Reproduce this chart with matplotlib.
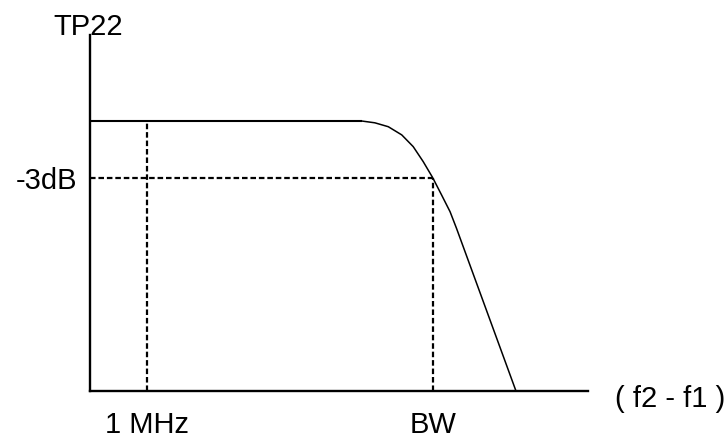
import matplotlib.pyplot as plt

plt.rcParams['font.family'] = ['Liberation Sans', 'DejaVu Sans']

# Response curve (arbitrary units, axis runs 0..100 both ways)
freq = [0, 54.6, 57.2, 59.9, 62.6, 64.9, 66.9, 68.8, 70.6, 72.3, 73.6, 85.5]
level = [75.8, 75.8, 75.3, 74.2, 71.9, 68.6, 64.4, 59.9, 55.0, 50.3, 45.6, 0]

flat_level = 75.8
mhz_x = 11.4
bw_x = 68.8
db3_level = 59.9

x_ticks = [mhz_x, bw_x]
x_tick_labels = ['1 MHz', 'BW']
y_ticks = [db3_level]
y_tick_labels = ['-3dB']

fig = plt.figure(figsize=(7.28, 4.41), dpi=100)
ax = fig.add_axes([90 / 728, (441 - 390.5) / 441, 498 / 728, 355.5 / 441])
ax.set_xlim(0, 100)
ax.set_ylim(0, 100)

# Flat part thicker, roll-off thinner
ax.plot(freq[:2], level[:2], color='black', lw=1.5, solid_capstyle='butt')
ax.plot(freq[1:], level[1:], color='black', lw=1.1, solid_joinstyle='round')

# Dashed guide lines
dash = dict(color='black', lw=1.6, linestyle=(0, (2.5, 1.3)))
ax.plot([mhz_x, mhz_x], [0, flat_level], **dash)
ax.plot([0, bw_x], [db3_level, db3_level], **dash)
ax.plot([bw_x, bw_x], [0, db3_level], **dash)

# Axes look
for side in ['top', 'right']:
    ax.spines[side].set_visible(False)
for side in ['left', 'bottom']:
    ax.spines[side].set_linewidth(1.7)

ax.set_xticks(x_ticks, x_tick_labels, fontsize=21)
ax.set_yticks(y_ticks, y_tick_labels, fontsize=21)
ax.tick_params(axis='x', length=0, pad=15)
ax.tick_params(axis='y', length=0, pad=9)

ax.text(-0.004, 1, 'TP22', transform=ax.transAxes, ha='center', va='baseline',
        fontsize=21)
ax.text((725 - 90) / 498, -0.046, '( f2 - f1 )', transform=ax.transAxes,
        ha='right', va='baseline', fontsize=21, clip_on=False)

fig.savefig('out.png', dpi=100)
